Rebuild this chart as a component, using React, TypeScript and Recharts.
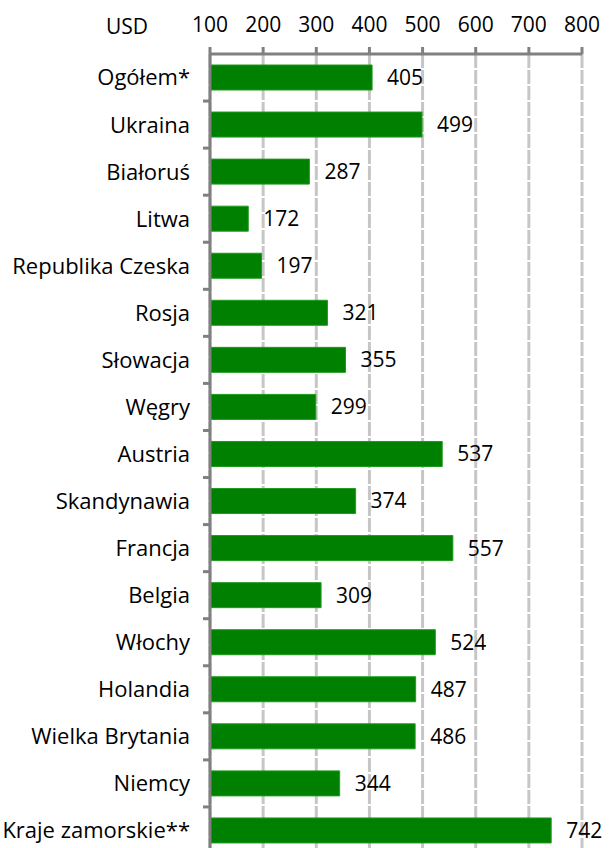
import { BarChart, Bar, XAxis, YAxis, CartesianGrid, LabelList } from "recharts";

const countries = [
  "Ogółem*",
  "Ukraina",
  "Białoruś",
  "Litwa",
  "Republika Czeska",
  "Rosja",
  "Słowacja",
  "Węgry",
  "Austria",
  "Skandynawia",
  "Francja",
  "Belgia",
  "Włochy",
  "Holandia",
  "Wielka Brytania",
  "Niemcy",
  "Kraje zamorskie**",
];
const spending = [405, 499, 287, 172, 197, 321, 355, 299, 537, 374, 557, 309, 524, 487, 486, 344, 742];
const xTicks = [100, 200, 300, 400, 500, 600, 700, 800];
const unitLabel = "USD";

const data = countries.map((name, i) => ({ name, value: spending[i] }));

const FONT = "'Open Sans', sans-serif";
const AXIS = "#808080";

function CountryTick(props: any) {
  const { x, y, payload } = props;
  const half = payload?.offset || 23.5;
  return (
    <g>
      <text x={x - 12} y={y} dy="0.36em" textAnchor="end" fontSize={22} fontFamily={FONT} fill="#000">
        {payload.value}
      </text>
      <line x1={x + 1} x2={x + 7} y1={y + half} y2={y + half} stroke={AXIS} strokeWidth={3} />
    </g>
  );
}

export default function App() {
  return (
    <div style={{ position: "fixed", left: 0, top: 0, width: 614, height: 848, overflow: "hidden", background: "#fff" }}>
      <div style={{ position: "absolute", left: 106, top: 12, fontFamily: FONT, fontSize: 21, color: "#000" }}>{unitLabel}</div>
      <BarChart
        width={614}
        height={880}
        data={data}
        layout="vertical"
        margin={{ top: 0, right: 32, left: 0, bottom: 26 }}
        barCategoryGap={0}
      >
        <CartesianGrid horizontal={false} stroke="#c6c6c6" strokeWidth={3} strokeDasharray="14 2" />
        <XAxis
          type="number"
          orientation="top"
          domain={[100, 800]}
          ticks={xTicks}
          height={54}
          axisLine={{ stroke: AXIS, strokeWidth: 3 }}
          tickLine={{ stroke: AXIS, strokeWidth: 3 }}
          tickSize={7}
          tickMargin={15}
          tick={{ fill: "#000", fontSize: 21, fontFamily: FONT }}
          allowDataOverflow
        />
        <YAxis
          type="category"
          dataKey="name"
          width={210}
          axisLine={{ stroke: AXIS, strokeWidth: 3 }}
          tickLine={false}
          tick={<CountryTick />}
          interval={0}
        />
        <Bar dataKey="value" fill="#008000" stroke="#1f9a1f" strokeWidth={1} barSize={25} isAnimationActive={false}>
          <LabelList dataKey="value" position="right" offset={15} fill="#000" fontSize={21} fontFamily={FONT} />
        </Bar>
      </BarChart>
    </div>
  );
}
